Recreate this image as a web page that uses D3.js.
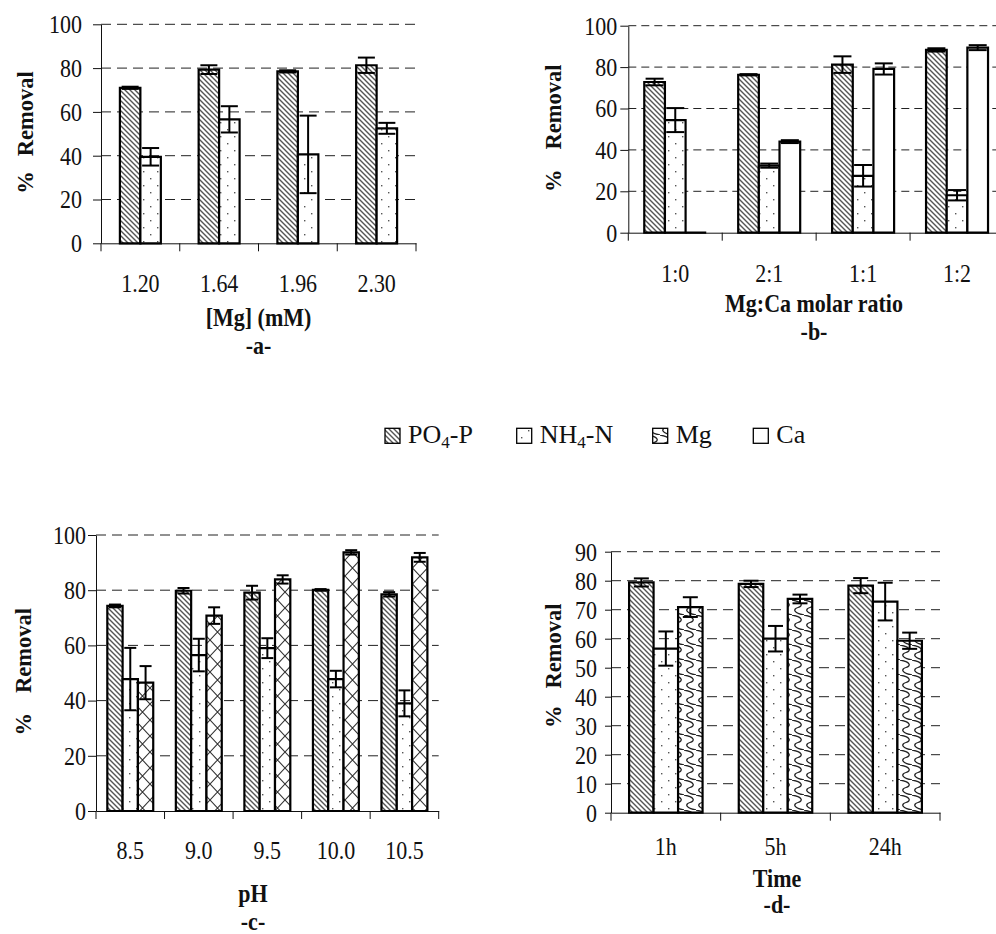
<!DOCTYPE html>
<html>
<head>
<meta charset="utf-8">
<script src="https://cdn.jsdelivr.net/npm/d3@7"></script>
<style>
  html, body { margin: 0; padding: 0; background: #fff; }
  svg { display: block; }
  text { font-family: "Liberation Serif", "Times New Roman", serif; fill: #111; }
</style>
</head>
<body>
<svg id="chart" width="996" height="934"></svg>
<script>
// ---- data -------------------------------------------------------------
// (a) effect of Mg dose
const doseLabels = ["1.20", "1.64", "1.96", "2.30"];
const doseP      = [71.0, 79.3, 78.5, 81.3];
const dosePErr   = [0.5, 2.0, 0.5, 3.5];
const doseN      = [39.5, 56.6, 40.6, 52.5];
const doseNErr   = [4.0, 6.0, 17.7, 2.5];

// (b) effect of Mg:Ca molar ratio
const ratioLabels = ["1:0", "2:1", "1:1", "1:2"];
const ratioP      = [72.8, 76.3, 81.2, 88.3];
const ratioPErr   = [1.6, 0.3, 4.0, 0.8];
const ratioN      = [54.4, 32.4, 27.5, 18.1];
const ratioNErr   = [5.8, 1.0, 5.2, 2.5];
const ratioCa     = [0, 44.0, 79.1, 89.4];
const ratioCaErr  = [0, 0.7, 2.7, 1.2];

// (c) effect of pH
const phLabels = ["8.5", "9.0", "9.5", "10.0", "10.5"];
const phP      = [74.3, 79.8, 79.1, 80.1, 78.5];
const phPErr   = [0.5, 1.0, 2.5, 0.3, 0.8];
const phN      = [47.8, 56.5, 59.0, 47.8, 39.0];
const phNErr   = [11.3, 5.9, 3.6, 3.0, 4.7];
const phMg     = [46.5, 70.8, 83.9, 93.7, 91.9];
const phMgErr  = [6.0, 3.0, 1.5, 0.8, 1.6];

// (d) effect of reaction time
const timeLabels = ["1h", "5h", "24h"];
const timeP      = [79.4, 78.9, 78.3];
const timePErr   = [1.4, 1.1, 2.6];
const timeN      = [56.6, 60.0, 72.8];
const timeNErr   = [5.9, 4.4, 6.5];
const timeMg     = [70.9, 73.7, 59.3];
const timeMgErr  = [3.4, 1.5, 2.8];

const legendNames = ["PO4-P", "NH4-N", "Mg", "Ca"];

// ---- setup ------------------------------------------------------------
const svg = d3.select("#chart");
const defs = svg.append("defs");
const STRETCH = 1.12;

// fill patterns
const hatch = defs.append("pattern").attr("id", "hatch")
  .attr("patternUnits", "userSpaceOnUse").attr("width", 5).attr("height", 5);
hatch.append("rect").attr("width", 5).attr("height", 5).attr("fill", "#fff");
hatch.append("path").attr("d", "M0,0 L5,5 M-1,4 L1,6 M4,-1 L6,1")
  .attr("stroke", "#555").attr("stroke-width", 1.4);

const dots = defs.append("pattern").attr("id", "dots")
  .attr("patternUnits", "userSpaceOnUse").attr("width", 14).attr("height", 14);
dots.append("rect").attr("width", 14).attr("height", 14).attr("fill", "#fff");
dots.append("rect").attr("x", 3).attr("y", 3).attr("width", 1.4).attr("height", 1.4).attr("fill", "#555");
dots.append("rect").attr("x", 10).attr("y", 10).attr("width", 1.4).attr("height", 1.4).attr("fill", "#555");

const cross = defs.append("pattern").attr("id", "cross")
  .attr("patternUnits", "userSpaceOnUse").attr("width", 15).attr("height", 16);
cross.append("rect").attr("width", 15).attr("height", 16).attr("fill", "#fff");
cross.append("path").attr("d", "M0,0 L15,16 M15,0 L0,16")
  .attr("stroke", "#333").attr("stroke-width", 1.1);

// wavy woven texture: chained S-curves running diagonally
const weave = defs.append("pattern").attr("id", "weave")
  .attr("patternUnits", "userSpaceOnUse").attr("width", 12).attr("height", 15);
weave.append("rect").attr("width", 12).attr("height", 15).attr("fill", "#fff");
weave.append("path")
  .attr("d", "M0,0 C11,2 11,6 6,7.5 C1,9 1,13 12,15 M-12,0 C-1,2 -1,6 -6,7.5 M18,7.5 C13,9 13,13 24,15")
  .attr("fill", "none").attr("stroke", "#222").attr("stroke-width", 1.3);

function stext(parent, x, y, str, opt = {}) {
  return parent.append("text")
    .attr("transform", `translate(${x},${y}) scale(1,${opt.sy ?? STRETCH})`)
    .attr("text-anchor", opt.anchor || "middle")
    .attr("font-size", opt.size || 22)
    .attr("font-weight", opt.weight || "normal")
    .text(str);
}

// ---- panel layout -----------------------------------------------------
const panels = [
  {
    cats: doseLabels,
    series: [
      { fill: "url(#hatch)", vals: doseP, err: dosePErr },
      { fill: "url(#dots)",  vals: doseN, err: doseNErr }
    ],
    x0: 101, x1: 416, yBottom: 243.3, yTop: 24.3, yMax: 100, yStep: 20,
    groupFrac: 0.52, cap: 17, tickLen: 8, tickPad: 11, dash: "10,6",
    xLabelBase: 292, title: "[Mg] (mM)", titleX: 258.5, titleBase: 326,
    tag: "-a-", tagBase: 354,
    ylabGap: 15, ylabX: 25, ylabY: 132.5
  },
  {
    cats: ratioLabels,
    series: [
      { fill: "url(#hatch)", vals: ratioP,  err: ratioPErr },
      { fill: "url(#dots)",  vals: ratioN,  err: ratioNErr },
      { fill: "#fff",        vals: ratioCa, err: ratioCaErr }
    ],
    x0: 628.3, x1: 1004, yBottom: 232.7, yTop: 25.7, yMax: 100, yStep: 20,
    groupFrac: 0.66, cap: 18, tickLen: 8, tickPad: 3, dash: "8,5",
    xLabelBase: 281.5, title: "Mg:Ca molar ratio", titleX: 814, titleBase: 311.5,
    tag: "-b-", tagBase: 340,
    ylabGap: 20, ylabX: 552.7, ylabY: 128.3
  },
  {
    cats: phLabels,
    series: [
      { fill: "url(#hatch)", vals: phP,  err: phPErr },
      { fill: "url(#dots)",  vals: phN,  err: phNErr },
      { fill: "url(#cross)", vals: phMg, err: phMgErr }
    ],
    x0: 96, x1: 438.7, yBottom: 811, yTop: 535, yMax: 100, yStep: 20,
    groupFrac: 0.67, cap: 12, tickLen: 8, tickPad: 2, dash: "10,6",
    xLabelBase: 859, title: "pH", titleX: 253, titleBase: 901.5,
    tag: "-c-", tagBase: 930,
    ylabGap: 20, ylabX: 23.3, ylabY: 671.7
  },
  {
    cats: timeLabels,
    series: [
      { fill: "url(#hatch)", vals: timeP,  err: timePErr },
      { fill: "url(#dots)",  vals: timeN,  err: timeNErr },
      { fill: "url(#weave)", vals: timeMg, err: timeMgErr }
    ],
    x0: 611, x1: 940, yBottom: 812.7, yTop: 551.7, yMax: 90, yStep: 10,
    groupFrac: 0.67, cap: 15, tickLen: 6, tickPad: 8, dash: "10,6",
    xLabelBase: 855, title: "Time", titleX: 777, titleBase: 886.5,
    tag: "-d-", tagBase: 913.3,
    ylabGap: 17, ylabX: 553.3, ylabY: 665.8
  }
];

panels.forEach(p => {
  const g = svg.append("g");
  const x = d3.scaleBand().domain(p.cats).range([p.x0, p.x1]).padding(0);
  const bw = x.bandwidth();
  const gw = bw * p.groupFrac;
  const xs = d3.scaleBand().domain(d3.range(p.series.length))
    .range([(bw - gw) / 2, (bw + gw) / 2]).padding(0);
  const y = d3.scaleLinear().domain([0, p.yMax]).range([p.yBottom, p.yTop]);
  const ticks = d3.range(0, p.yMax + 0.001, p.yStep);

  // dashed gridlines
  g.append("g").selectAll("line").data(ticks.filter(t => t > 0)).join("line")
    .attr("x1", p.x0).attr("x2", p.x1)
    .attr("y1", d => y(d)).attr("y2", d => y(d))
    .attr("stroke", "#222").attr("stroke-width", 1)
    .attr("stroke-dasharray", p.dash);

  // y axis
  const ya = g.append("g").attr("transform", `translate(${p.x0},0)`)
    .call(d3.axisLeft(y).tickValues(ticks).tickSize(p.tickLen).tickSizeOuter(0).tickPadding(p.tickPad));
  ya.select(".domain").attr("stroke", "#111");
  ya.selectAll(".tick line").attr("stroke", "#111");
  ya.selectAll(".tick text")
    .attr("font-size", 22).attr("font-family", null).attr("fill", "#111")
    .attr("dy", "0.34em")
    .attr("transform", `scale(1,${STRETCH})`);

  // x axis line with boundary ticks
  const xa = g.append("g").attr("transform", `translate(0,${p.yBottom})`)
    .call(d3.axisBottom(x).tickSize(0).tickSizeOuter(0).tickPadding(0));
  xa.select(".domain").attr("stroke", "#111");
  xa.selectAll(".tick text")
    .attr("font-size", 22).attr("font-family", null).attr("fill", "#111")
    .attr("y", 0).attr("dy", null)
    .attr("transform", `translate(0,${p.xLabelBase - p.yBottom}) scale(1,${STRETCH})`);
  const bounds = p.cats.map(c => x(c)).concat([p.x1]);
  g.append("g").selectAll("line").data(bounds).join("line")
    .attr("x1", d => d).attr("x2", d => d)
    .attr("y1", p.yBottom).attr("y2", p.yBottom + 8)
    .attr("stroke", "#111").attr("stroke-width", 1);

  // bars
  p.series.forEach((s, si) => {
    g.append("g").selectAll("path").data(s.vals).join("path")
      .attr("d", (v, i) => {
        const bx = x(p.cats[i]) + xs(si), w = xs.bandwidth();
        return `M${bx},${y(0)}V${y(v)}H${bx + w}V${y(0)}Z`;
      })
      .attr("fill", s.fill).attr("stroke", "#000").attr("stroke-width", 2.2);
  });

  // error bars
  p.series.forEach((s, si) => {
    const eg = g.append("g").attr("stroke", "#000").attr("stroke-width", 2);
    s.vals.forEach((v, i) => {
      const e = s.err[i];
      if (!e) return;
      const cx = x(p.cats[i]) + xs(si) + xs.bandwidth() / 2;
      const hi = y(v + e), lo = y(v - e);
      eg.append("line").attr("x1", cx).attr("x2", cx).attr("y1", hi).attr("y2", lo);
      eg.append("line").attr("x1", cx - p.cap / 2).attr("x2", cx + p.cap / 2).attr("y1", hi).attr("y2", hi);
      eg.append("line").attr("x1", cx - p.cap / 2).attr("x2", cx + p.cap / 2).attr("y1", lo).attr("y2", lo);
    });
  });

  // axis titles and panel tags
  stext(g, p.titleX, p.titleBase, p.title, { weight: "bold" });
  stext(g, p.titleX, p.tagBase, p.tag, { weight: "bold" });
  const yl = g.append("text")
    .attr("transform", `translate(${p.ylabX},${p.ylabY}) rotate(-90)`)
    .attr("text-anchor", "middle").attr("dy", "0.35em")
    .attr("font-size", 22.5).attr("font-weight", "bold");
  yl.append("tspan").text("%");
  yl.append("tspan").attr("dx", p.ylabGap).text("Removal");
});

// ---- legend -----------------------------------------------------------
const legendFills = ["url(#hatch)", "url(#dots)", "url(#weave)", "#fff"];
const swatchX = [385, 516.7, 652.7, 753.3];
const legendY = 428.3;
const lg = svg.append("g");
legendNames.forEach((name, i) => {
  lg.append("rect").attr("x", swatchX[i]).attr("y", legendY)
    .attr("width", 15).attr("height", 15)
    .attr("fill", legendFills[i]).attr("stroke", "#000").attr("stroke-width", 1.3);
  const t = lg.append("text").attr("x", swatchX[i] + 23).attr("y", legendY + 15)
    .attr("font-size", 26);
  const m = name.match(/^([A-Z]+)(\d)(.*)$/);
  if (m) {
    t.append("tspan").text(m[1]);
    t.append("tspan").attr("font-size", 17).attr("dy", 5).text(m[2]);
    t.append("tspan").attr("dy", -5).text(m[3]);
  } else {
    t.text(name);
  }
});
</script>
</body>
</html>
